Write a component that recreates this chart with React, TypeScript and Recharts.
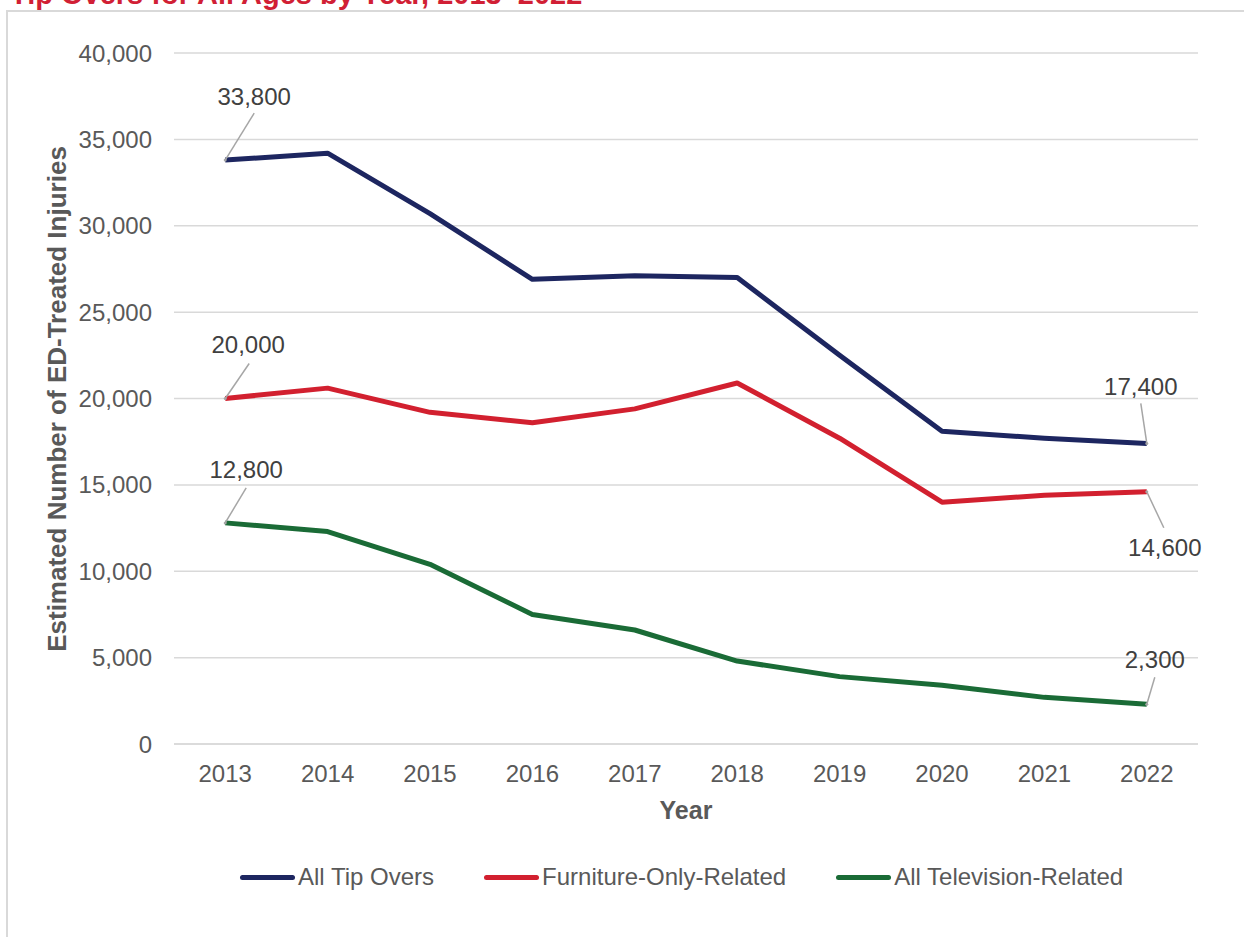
import React from 'react';
import { LineChart, Line, XAxis, YAxis, CartesianGrid, LabelList } from 'recharts';

const years = ['2013', '2014', '2015', '2016', '2017', '2018', '2019', '2020', '2021', '2022'];
const allTipOvers = [33800, 34200, 30700, 26900, 27100, 27000, 22500, 18100, 17700, 17400];
const furnitureOnly = [20000, 20600, 19200, 18600, 19400, 20900, 17700, 14000, 14400, 14600];
const television = [12800, 12300, 10400, 7500, 6600, 4800, 3900, 3400, 2700, 2300];
const yTicks = [0, 5000, 10000, 15000, 20000, 25000, 30000, 35000, 40000];

const seriesNames = ['All Tip Overs', 'Furniture-Only-Related', 'All Television-Related'];
const seriesColors = ['#1d2660', '#d2202f', '#1a6b36'];

const data = years.map((year, i) => ({
  year,
  all: allTipOvers[i],
  furniture: furnitureOnly[i],
  tv: television[i],
}));

type Ann = { tx: number; ty: number; lx: number; ly: number };
const annotations: Record<string, Record<number, Ann>> = {
  all: { 0: { tx: 29, ty: -64, lx: 29, ly: -47 }, 9: { tx: -6, ty: -57, lx: -6, ly: -40 } },
  furniture: { 0: { tx: 23, ty: -54, lx: 24, ly: -35 }, 9: { tx: 18, ty: 56, lx: 17, ly: 36 } },
  tv: { 0: { tx: 21, ty: -53, lx: 21, ly: -35 }, 9: { tx: 8, ty: -45, lx: 8, ly: -27 } },
};

const FONT = '"Liberation Sans", Arial, sans-serif';

const makeLabel = (key: string) => (props: any) => {
  const { index, value } = props;
  const ann = annotations[key][index];
  if (!ann) return null;
  const x = props.x ?? props.viewBox?.x;
  const y = props.y ?? props.viewBox?.y;
  if (x == null || y == null) return null;
  return (
    <g>
      <line x1={x} y1={y} x2={x + ann.lx} y2={y + ann.ly} stroke="#a6a6a6" strokeWidth={1.5} />
      <circle cx={x} cy={y} r={1.5} fill="#a6a6a6" />
      <text
        x={x + ann.tx}
        y={y + ann.ty}
        dy="0.35em"
        textAnchor="middle"
        fontFamily={FONT}
        fontSize={24}
        fill="#404040"
      >
        {Number(value).toLocaleString('en-US')}
      </text>
    </g>
  );
};

const YLabel = () => (
  <text
    x={57}
    y={399}
    transform="rotate(-90, 57, 399)"
    textAnchor="middle"
    dy="0.35em"
    fontFamily={FONT}
    fontSize={26}
    fontWeight="bold"
    fill="#595959"
  >
    Estimated Number of ED-Treated Injuries
  </text>
);

const XLabel = (props: any) => {
  const vb = props.viewBox || {};
  const cx = (vb.x ?? 174) + (vb.width ?? 1024) / 2;
  return (
    <text
      x={cx}
      y={810}
      dy="0.35em"
      textAnchor="middle"
      fontFamily={FONT}
      fontSize={25}
      fontWeight="bold"
      fill="#595959"
    >
      Year
    </text>
  );
};

export default function App() {
  return (
    <div
      style={{
        position: 'fixed',
        left: 0,
        top: 0,
        width: 1244,
        height: 937,
        background: '#fff',
        overflow: 'hidden',
        fontFamily: FONT,
      }}
    >
      <div
        style={{
          position: 'absolute',
          left: 6,
          top: 10,
          width: 1240,
          height: 960,
          border: '2px solid #d9d9d9',
          boxSizing: 'border-box',
        }}
      />
      <div
        style={{
          position: 'absolute',
          left: 10,
          top: -20,
          fontSize: 29,
          lineHeight: '29px',
          fontWeight: 'bold',
          color: '#d11f35',
          whiteSpace: 'nowrap',
        }}
      >
        Tip Overs for All Ages by Year, 2013–2022
      </div>
      <div style={{ position: 'absolute', left: 0, top: 0 }}>
        <LineChart width={1244} height={937} data={data} margin={{ top: 53, right: 46, bottom: 133, left: 0 }}>
          <CartesianGrid vertical={false} stroke="#d9d9d9" strokeWidth={1.5} />
          <XAxis
            dataKey="year"
            height={60}
            padding={{ left: 51.2, right: 51.2 }}
            axisLine={{ stroke: '#d9d9d9', strokeWidth: 1.5 }}
            tickLine={false}
            tickSize={0}
            tickMargin={21}
            tick={{ fill: '#595959', fontSize: 24, fontFamily: FONT }}
            interval={0}
            label={<XLabel />}
          />
          <YAxis
            width={174}
            domain={[0, 40000]}
            ticks={yTicks}
            axisLine={false}
            tickLine={false}
            tickSize={0}
            tickMargin={22}
            tick={{ fill: '#595959', fontSize: 24, fontFamily: FONT }}
            tickFormatter={(v: number) => v.toLocaleString('en-US')}
            label={<YLabel />}
          />
          <Line dataKey="all" stroke={seriesColors[0]} strokeWidth={5} dot={false} isAnimationActive={false} strokeLinejoin="round">
            <LabelList dataKey="all" content={makeLabel('all')} />
          </Line>
          <Line dataKey="furniture" stroke={seriesColors[1]} strokeWidth={5} dot={false} isAnimationActive={false} strokeLinejoin="round">
            <LabelList dataKey="furniture" content={makeLabel('furniture')} />
          </Line>
          <Line dataKey="tv" stroke={seriesColors[2]} strokeWidth={5} dot={false} isAnimationActive={false} strokeLinejoin="round">
            <LabelList dataKey="tv" content={makeLabel('tv')} />
          </Line>
        </LineChart>
      </div>
      <div
        style={{
          position: 'absolute',
          left: 240,
          top: 862,
          height: 30,
          display: 'flex',
          alignItems: 'center',
          fontSize: 24,
          color: '#595959',
          whiteSpace: 'nowrap',
        }}
      >
        {seriesNames.map((name, i) => (
          <div key={name} style={{ display: 'flex', alignItems: 'center', marginRight: i < 2 ? 50 : 0 }}>
            <div style={{ width: 55, height: 5, borderRadius: 3, background: seriesColors[i], marginRight: 3 }} />
            <span>{name}</span>
          </div>
        ))}
      </div>
    </div>
  );
}
